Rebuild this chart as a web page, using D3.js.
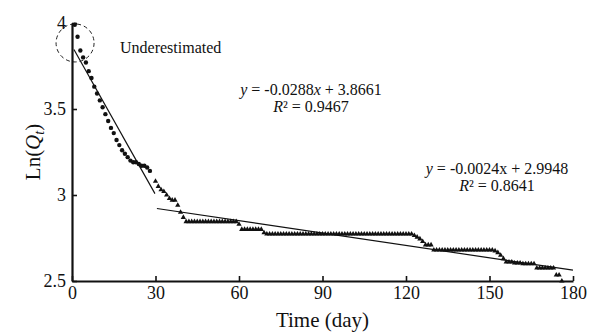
<!DOCTYPE html>
<html>
<head>
<meta charset="utf-8">
<script src="https://cdn.jsdelivr.net/npm/d3@7"></script>
<style>
  body { margin: 0; background: #fff; }
  svg text { font-family: "Liberation Serif", "Times New Roman", serif; fill: #111; }
</style>
</head>
<body>
<div id="chart"></div>
<script>
// measured (circles) days 1..28
var circleDays = [1, 2, 3, 4, 5, 6, 7, 8, 9, 10, 11, 12, 13, 14, 15, 16, 17, 18, 19, 20, 21, 22, 23, 24, 25, 26, 27, 28];
var circleVals = [3.99, 3.92, 3.84, 3.80, 3.77, 3.72, 3.68, 3.63, 3.59, 3.55, 3.51, 3.47, 3.43, 3.39,
  3.36, 3.32, 3.29, 3.26, 3.24, 3.22, 3.20, 3.19, 3.19, 3.18, 3.17, 3.17, 3.16, 3.14];

// measured (triangles) days 30..176, one per day
var triStartDay = 30;
var triVals = [
  3.08, 3.05, 3.03, 3.02, 3.00, 2.98, 2.97, 2.97, 2.94, 2.90,
  2.87, 2.845, 2.845, 2.845, 2.845, 2.845, 2.845, 2.845, 2.845, 2.845,
  2.845, 2.845, 2.845, 2.845, 2.845, 2.845, 2.845, 2.845, 2.845, 2.845,
  2.83, 2.80, 2.80, 2.80, 2.80, 2.80, 2.80, 2.80, 2.80, 2.78,
  2.773, 2.773, 2.773, 2.773, 2.773, 2.773, 2.773, 2.773, 2.773, 2.773,
  2.773, 2.773, 2.773, 2.773, 2.773, 2.773, 2.773, 2.773, 2.773, 2.773,
  2.773, 2.773, 2.773, 2.773, 2.773, 2.773, 2.773, 2.773, 2.773, 2.773,
  2.773, 2.773, 2.773, 2.773, 2.773, 2.773, 2.773, 2.773, 2.773, 2.773,
  2.773, 2.773, 2.773, 2.773, 2.773, 2.773, 2.773, 2.773, 2.773, 2.773,
  2.773, 2.773, 2.773, 2.765, 2.755, 2.745, 2.73, 2.71, 2.71, 2.71,
  2.68, 2.68, 2.68, 2.68, 2.68, 2.68, 2.68, 2.68, 2.68, 2.68,
  2.68, 2.68, 2.68, 2.68, 2.68, 2.68, 2.68, 2.68, 2.68, 2.68,
  2.68, 2.68, 2.675, 2.665, 2.65, 2.63, 2.61, 2.61, 2.61, 2.605,
  2.605, 2.605, 2.60, 2.60, 2.60, 2.60, 2.60, 2.575, 2.575, 2.575,
  2.575, 2.575, 2.575, 2.575, 2.535, 2.535, 2.50
];

// fitted lines: [slope, intercept, from day, to day]
var fit1 = { slope: -0.0288, intercept: 3.8661, from: 0.7, to: 29.8 };
var fit2 = { slope: -0.0024, intercept: 2.9948, from: 30.5, to: 180 };

var xTicks = [0, 30, 60, 90, 120, 150, 180];
var yTicks = [2.5, 3, 3.5, 4];

var width = 592, height = 335;
var margin = { top: 23, right: 19, bottom: 54, left: 72 };

var x = d3.scaleLinear().domain([0, 180]).range([margin.left, width - margin.right]);
var y = d3.scaleLinear().domain([2.5, 4]).range([height - margin.bottom, margin.top]);

var svg = d3.select("#chart").append("svg")
  .attr("width", width)
  .attr("height", height);

// fitted lines
[fit1, fit2].forEach(function (f) {
  svg.append("line")
    .attr("x1", x(f.from))
    .attr("y1", y(f.slope * f.from + f.intercept))
    .attr("x2", x(f.to))
    .attr("y2", y(f.slope * f.to + f.intercept))
    .style("stroke", "#111")
    .style("stroke-width", 1.2);
});

// circles
svg.selectAll("circle.pt")
  .data(circleVals)
  .enter().append("circle")
  .attr("class", "pt")
  .attr("cx", function (d, i) { return x(circleDays[i]); })
  .attr("cy", function (d) { return y(d); })
  .attr("r", 2.2)
  .style("fill", "#111");

// triangles
var tri = d3.symbol().type(d3.symbolTriangle).size(12);
svg.selectAll("path.tri")
  .data(triVals)
  .enter().append("path")
  .attr("class", "tri")
  .attr("d", tri)
  .attr("transform", function (d, i) {
    return "translate(" + x(triStartDay + i) + "," + y(d) + ")";
  })
  .style("fill", "#111");

// dashed circle round the first points
svg.append("circle")
  .attr("cx", x(1.1))
  .attr("cy", y(3.884))
  .attr("r", 19)
  .style("fill", "none")
  .style("stroke", "#222")
  .style("stroke-width", 1)
  .style("stroke-dasharray", "4,3");

// axes
var xAxis = svg.append("g")
  .attr("transform", "translate(0," + y(2.5) + ")")
  .call(d3.axisBottom(x).tickValues(xTicks).tickSizeInner(-5).tickSizeOuter(0).tickPadding(5));

var yAxis = svg.append("g")
  .attr("transform", "translate(" + x(0) + ",0)")
  .call(d3.axisLeft(y).tickValues(yTicks).tickSizeInner(-5).tickSizeOuter(0).tickPadding(6)
    .tickFormat(d3.format("")));

[xAxis, yAxis].forEach(function (g) {
  g.select(".domain").style("stroke", "#111").style("stroke-width", 2.2);
  g.selectAll(".tick line").style("stroke", "#111").style("stroke-width", 1.6);
  g.selectAll(".tick text")
    .style("font-family", "Liberation Serif")
    .style("font-size", "18px")
    .style("fill", "#111");
});

// axis titles
svg.append("text")
  .attr("x", (x(0) + x(180)) / 2)
  .attr("y", 327)
  .attr("text-anchor", "middle")
  .style("font-size", "21px")
  .text("Time (day)");

var yl = svg.append("text")
  .attr("transform", "translate(40," + ((y(2.5) + y(4)) / 2) + ") rotate(-90)")
  .attr("text-anchor", "middle")
  .style("font-size", "21px");
yl.append("tspan").text("Ln(");
yl.append("tspan").style("font-style", "italic").text("Q");
yl.append("tspan").style("font-style", "italic").style("font-size", "14px").attr("dy", 4).text("t");
yl.append("tspan").attr("dy", -4).text(")");

// annotations
svg.append("text")
  .attr("x", 120)
  .attr("y", 53)
  .style("font-size", "16px")
  .text("Underestimated");

function equation(cx, cy, slopeTxt, interceptTxt, r2Txt, italicX) {
  var t = svg.append("text")
    .attr("x", cx)
    .attr("y", cy)
    .attr("text-anchor", "middle")
    .style("font-size", "16px");
  t.append("tspan").style("font-style", "italic").text("y");
  t.append("tspan").text(" = " + slopeTxt);
  t.append("tspan").style("font-style", italicX ? "italic" : "normal").text("x");
  t.append("tspan").text(" + " + interceptTxt);

  var r = svg.append("text")
    .attr("x", cx)
    .attr("y", cy + 17)
    .attr("text-anchor", "middle")
    .style("font-size", "16px");
  r.append("tspan").style("font-style", "italic").text("R");
  r.append("tspan").text("² = " + r2Txt);
}

equation(311, 95, "-0.0288", "3.8661", "0.9467", true);
equation(497, 174, "-0.0024", "2.9948", "0.8641", false);
</script>
</body>
</html>
